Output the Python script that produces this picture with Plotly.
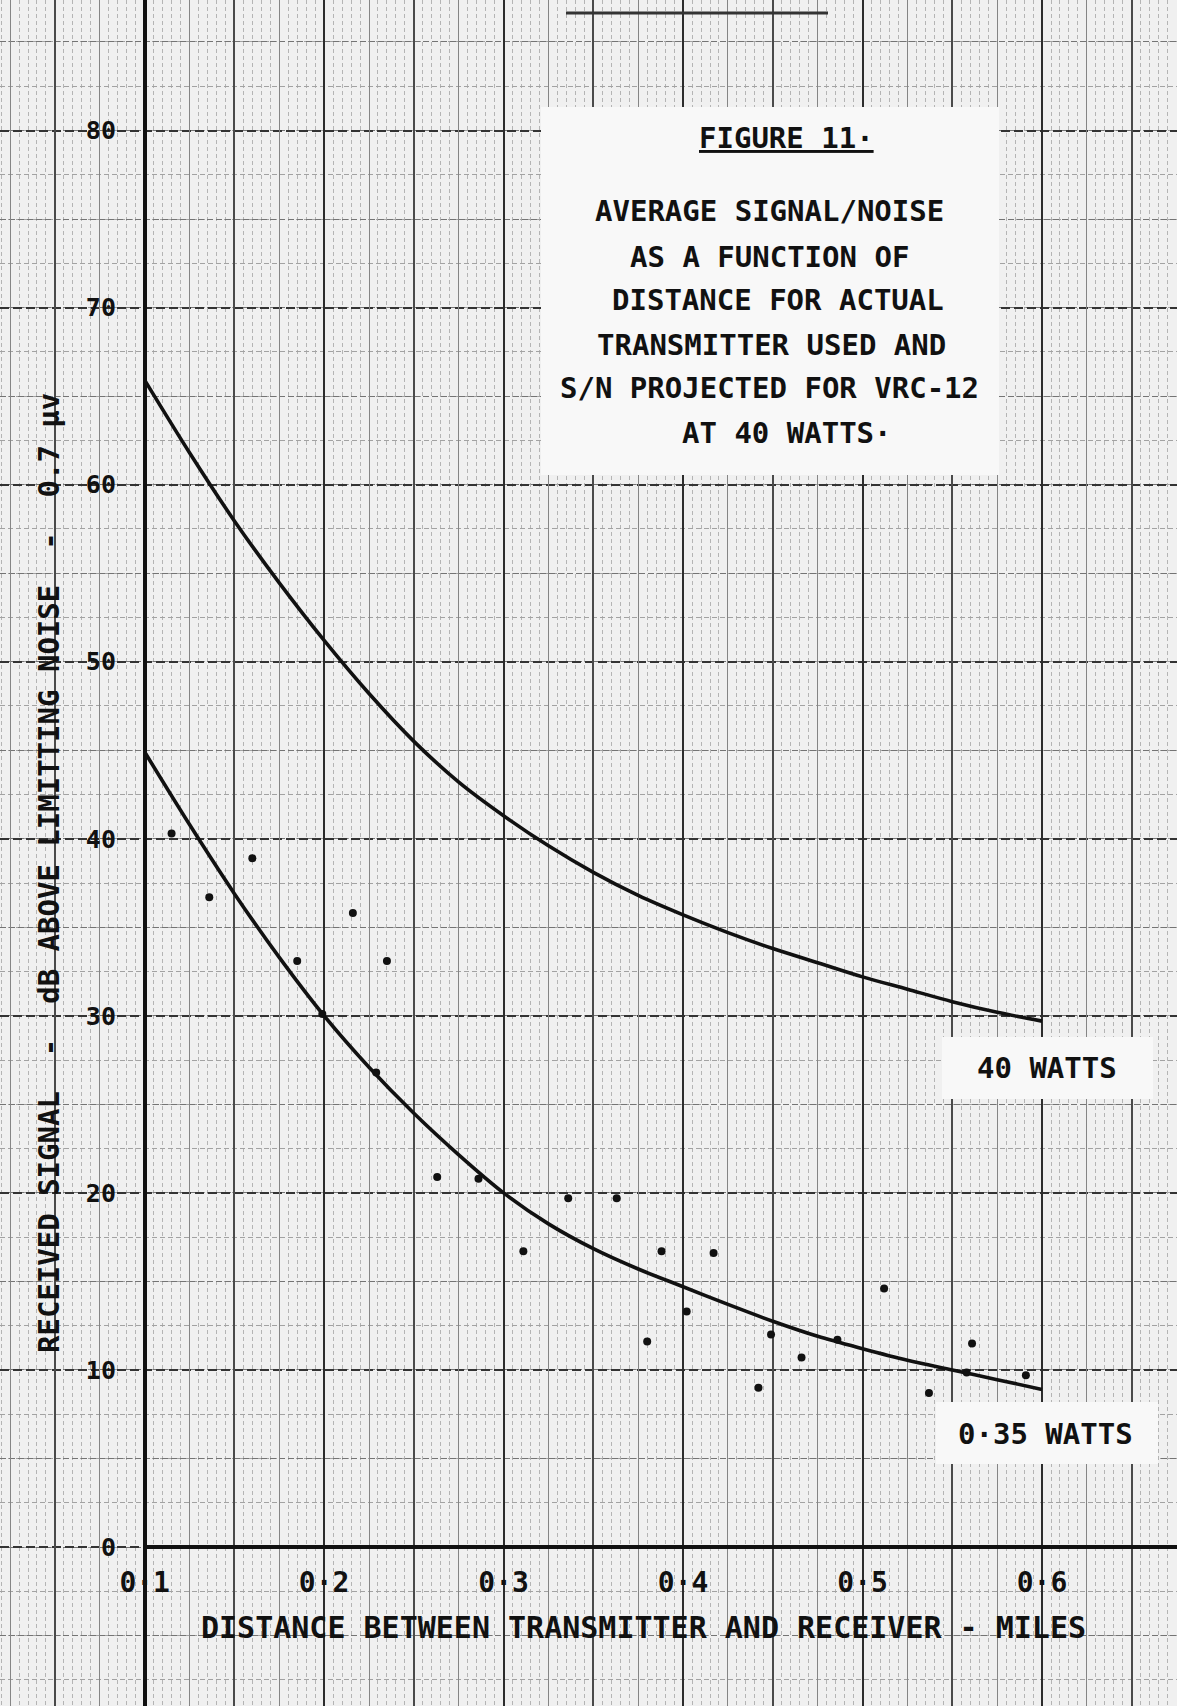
import plotly.graph_objects as go

# ---------------- data ----------------
X_TICKS = [0.1, 0.2, 0.3, 0.4, 0.5, 0.6]
X_TICK_TEXT = ["0·1", "0·2", "0·3", "0·4", "0·5", "0·6"]
Y_TICKS = [0, 10, 20, 30, 40, 50, 60, 70, 80]
Y_TICK_TEXT = ["0", "10", "20", "30", "40", "50", "60", "70", "80"]

CURVE_X = [0.100, 0.125, 0.150, 0.175, 0.200, 0.225, 0.250, 0.275, 0.300, 0.325,
           0.350, 0.375, 0.400, 0.425, 0.450, 0.475, 0.500, 0.525, 0.550, 0.575, 0.600]
W40_Y = [65.9, 61.8, 57.95, 54.45, 51.2, 48.2, 45.5, 43.2, 41.3, 39.6,
         38.1, 36.8, 35.7, 34.7, 33.8, 33.0, 32.2, 31.5, 30.8, 30.2, 29.7]
W035_Y = [44.9, 40.8, 36.9, 33.3, 30.0, 27.1, 24.5, 22.15, 20.0, 18.25,
          16.85, 15.7, 14.7, 13.7, 12.75, 11.9, 11.2, 10.55, 10.0, 9.45, 8.9]

MEAS_X = [0.115, 0.136, 0.160, 0.185, 0.199, 0.216, 0.229, 0.235, 0.263, 0.286,
          0.311, 0.336, 0.363, 0.380, 0.388, 0.402, 0.417, 0.442, 0.449, 0.466,
          0.486, 0.512, 0.537, 0.558, 0.561, 0.591]
MEAS_Y = [40.3, 36.7, 38.9, 33.1, 30.1, 35.8, 26.8, 33.1, 20.9, 20.8,
          16.7, 19.7, 19.7, 11.6, 16.7, 13.3, 16.6, 9.0, 12.0, 10.7,
          11.7, 14.6, 8.7, 9.85, 11.5, 9.7]

X_RANGE = [0.0194, 0.6752]
Y_RANGE = [-8.98, 87.37]

W, H = 1177, 1706
FONT = "DejaVu Sans Mono"
INK = "#111111"
PAPER = "#f0f0f0"
BOX = "#f8f8f8"


def px(x):
    return x / W


def py(y):
    return 1 - y / H


fig = go.Figure()

# invisible anchors so every overlay axis pair exists
for xa, ya in [("x2", "y"), ("x3", "y"), ("x4", "y"), ("x", "y2"), ("x", "y3")]:
    fig.add_trace(go.Scatter(x=[X_RANGE[0]], y=[Y_RANGE[0]], xaxis=xa, yaxis=ya,
                             mode="markers", marker=dict(opacity=0),
                             hoverinfo="skip", showlegend=False))

fig.add_trace(go.Scatter(x=CURVE_X, y=W40_Y, mode="lines", name="40 WATTS",
                         line=dict(color=INK, width=3.6, shape="spline", smoothing=0.9),
                         showlegend=False))
fig.add_trace(go.Scatter(x=CURVE_X, y=W035_Y, mode="lines", name="0.35 WATTS",
                         line=dict(color=INK, width=3.6, shape="spline", smoothing=0.9),
                         showlegend=False))
fig.add_trace(go.Scatter(x=MEAS_X, y=MEAS_Y, mode="markers", name="measured",
                         marker=dict(color=INK, size=8), showlegend=False))

nolab = dict(zeroline=False, showline=False, ticks="", showticklabels=False, fixedrange=True)

fig.update_layout(
    width=W, height=H,
    margin=dict(l=0, r=0, t=0, b=0),
    paper_bgcolor=PAPER, plot_bgcolor=PAPER,
    showlegend=False,
    xaxis=dict(range=X_RANGE, dtick=0.005, tick0=0, showgrid=True,
               gridcolor="#b4b4b4", gridwidth=1, griddash="4px,3px", **nolab),
    xaxis2=dict(overlaying="x", matches="x", anchor="y", dtick=0.025, tick0=0,
                showgrid=True, gridcolor="#858585", gridwidth=1.1, **nolab),
    xaxis3=dict(overlaying="x", matches="x", anchor="y", dtick=0.05, tick0=0,
                showgrid=True, gridcolor="#4a4a4a", gridwidth=1.5, **nolab),
    xaxis4=dict(overlaying="x", matches="x", anchor="free", position=(H - 1547) / H,
                side="bottom", tickmode="array", tickvals=X_TICKS, ticktext=X_TICK_TEXT,
                showticklabels=True, ticks="", zeroline=False, showline=False,
                tickfont=dict(family=FONT, size=28, color=INK, weight="bold"),
                ticklabelstandoff=16, showgrid=True, gridcolor="#2c2c2c", gridwidth=2.1,
                fixedrange=True),
    yaxis=dict(range=Y_RANGE, dtick=2.5, tick0=0, showgrid=True,
               gridcolor="#a2a2a2", gridwidth=1.1, griddash="5px,3px", **nolab),
    yaxis2=dict(overlaying="y", matches="y", anchor="x", dtick=5, tick0=0,
                showgrid=True, gridcolor="#747474", gridwidth=1.3, griddash="6px,3px", **nolab),
    yaxis3=dict(overlaying="y", matches="y", anchor="free", position=144.7 / W,
                side="left", tickmode="array", tickvals=Y_TICKS, ticktext=Y_TICK_TEXT,
                showticklabels=True, ticks="", zeroline=False,
                showline=True, linecolor=INK, linewidth=3.5,
                tickfont=dict(family=FONT, size=25, color=INK, weight="bold"),
                ticklabelstandoff=22, showgrid=True, gridcolor="#333333", gridwidth=2,
                griddash="9px,4px", fixedrange=True),
)

shapes = [
    # heavy x axis line from 0.1 to the right edge
    dict(type="line", xref="x", yref="y", x0=X_TICKS[0], x1=X_RANGE[1], y0=0, y1=0,
         line=dict(color=INK, width=4), layer="above"),
    # text boxes
    dict(type="rect", xref="paper", yref="paper", x0=px(541), x1=px(999), y0=py(475), y1=py(107),
         fillcolor=BOX, line=dict(width=0), layer="above"),
    dict(type="rect", xref="paper", yref="paper", x0=px(942), x1=px(1153), y0=py(1099), y1=py(1037),
         fillcolor=BOX, line=dict(width=0), layer="above"),
    dict(type="rect", xref="paper", yref="paper", x0=px(936), x1=px(1158), y0=py(1464), y1=py(1402),
         fillcolor=BOX, line=dict(width=0), layer="above"),
    # scan artefact at the top
    dict(type="line", xref="paper", yref="paper", x0=px(566), x1=px(828), y0=py(13), y1=py(13),
         line=dict(color="#333333", width=3), layer="above"),
]
fig.update_layout(shapes=shapes)

TITLE_LINES = ["<u>FIGURE 11·</u>", "AVERAGE SIGNAL/NOISE", "AS A FUNCTION OF",
               "DISTANCE FOR ACTUAL", "TRANSMITTER USED AND",
               "S/N PROJECTED FOR VRC-12", "AT 40 WATTS·"]
TITLE_CX = [786, 769, 769, 778, 771, 769, 787]
TITLE_CY = [138, 211, 257, 300, 345, 388, 433]

ann = []
for t, cx, cy in zip(TITLE_LINES, TITLE_CX, TITLE_CY):
    ann.append(dict(text=t, x=px(cx), y=py(cy), xref="paper", yref="paper",
                    showarrow=False, xanchor="center", yanchor="middle",
                    font=dict(family=FONT, size=29, color=INK, weight="bold")))

ann.append(dict(text="40 WATTS", x=px(1047), y=py(1068), xref="paper", yref="paper",
                showarrow=False, xanchor="center", yanchor="middle",
                font=dict(family=FONT, size=29, color=INK, weight="bold")))
ann.append(dict(text="0·35 WATTS", x=px(1045), y=py(1434), xref="paper", yref="paper",
                showarrow=False, xanchor="center", yanchor="middle",
                font=dict(family=FONT, size=29, color=INK, weight="bold")))

ann.append(dict(text="DISTANCE BETWEEN TRANSMITTER AND RECEIVER - MILES",
                x=px(643), y=py(1627), xref="paper", yref="paper",
                showarrow=False, xanchor="center", yanchor="middle",
                font=dict(family=FONT, size=30, color=INK, weight="bold")))
ann.append(dict(text="RECEIVED SIGNAL\u00a0\u00a0-\u00a0\u00a0dB ABOVE LIMITTING NOISE\u00a0\u00a0-\u00a0\u00a00.7 µv",
                x=px(49), y=py(873), xref="paper", yref="paper", textangle=-90,
                showarrow=False, xanchor="center", yanchor="middle",
                font=dict(family=FONT, size=29, color=INK, weight="bold")))

fig.update_layout(annotations=ann)

fig.write_html("out.html", config={"displayModeBar": False},
               post_script="document.body.style.margin='0px';")
